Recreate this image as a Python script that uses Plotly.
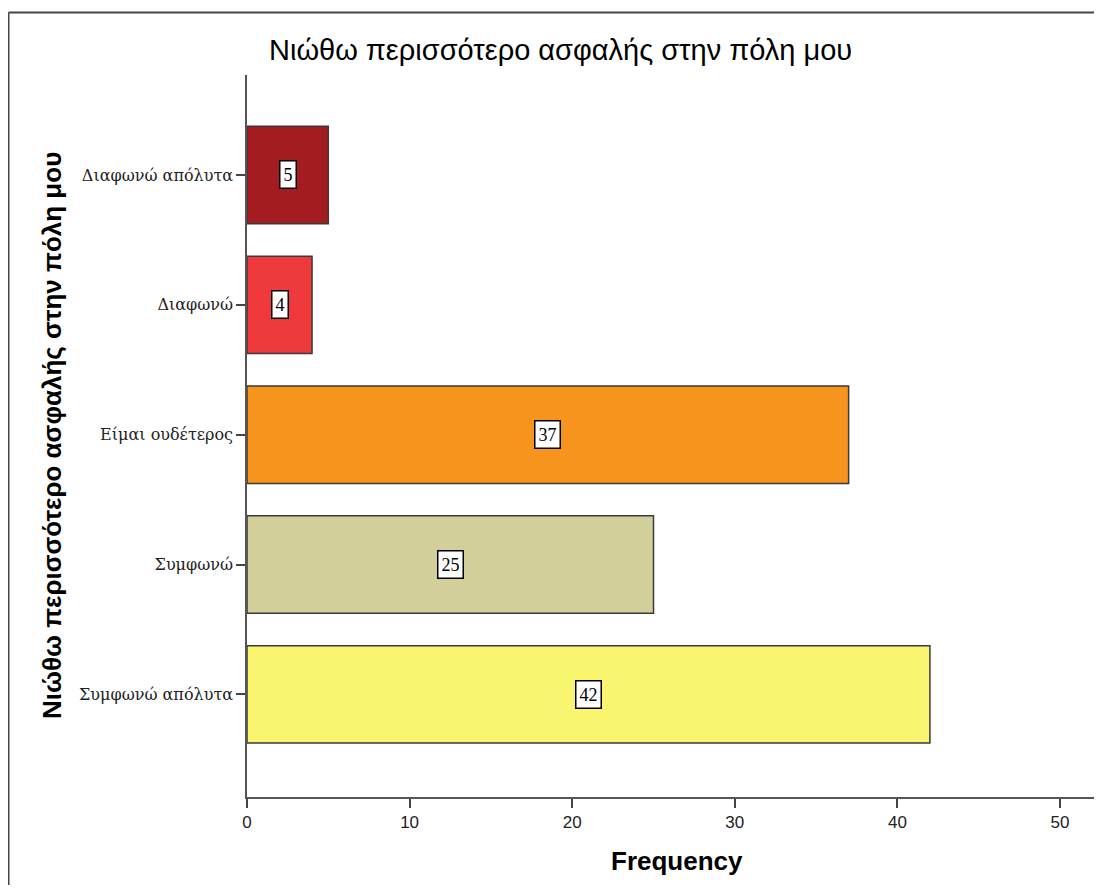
import plotly.graph_objects as go

categories = ["Διαφωνώ απόλυτα", "Διαφωνώ", "Είμαι ουδέτερος", "Συμφωνώ", "Συμφωνώ απόλυτα"]
frequencies = [5, 4, 37, 25, 42]
bar_colors = ["#A51C20", "#EE393D", "#F7941E", "#D3CF9A", "#F9F56E"]
x_ticks = [0, 10, 20, 30, 40, 50]
title_text = "Νιώθω περισσότερο ασφαλής στην πόλη μου"
y_title = "Νιώθω περισσότερο ασφαλής στην πόλη μου"
x_title = "Frequency"

# page has an 8px body margin; figure coords = page coords - 8
W, H = 1086, 877
L, R, T, B = 239, 0, 67, 88
pw, ph = W - L - R, H - T - B
AX_BOTTOM = H - B


def py(y_fig):
    return (AX_BOTTOM - y_fig) / ph


def px(x_fig):
    return (x_fig - L) / pw


fig = go.Figure()
fig.add_trace(go.Bar(
    x=frequencies, y=categories, orientation="h",
    marker=dict(color=bar_colors, line=dict(color="#3a3a3a", width=1.5)),
    width=0.75, hoverinfo="skip", showlegend=False,
))

for c, v in zip(categories, frequencies):
    fig.add_annotation(
        x=v / 2, y=c, xref="x", yref="y", text=str(v), showarrow=False,
        font=dict(family="Liberation Serif", size=18, color="black"),
        bgcolor="white", bordercolor="black", borderwidth=1.5, borderpad=3,
    )

# outer frame: only the top and left edges fall inside the picture
fig.add_shape(type="line", xref="paper", yref="paper",
              x0=px(0.5), x1=1.0, y0=py(4.5), y1=py(4.5),
              line=dict(color="#444", width=2), layer="below")
fig.add_shape(type="line", xref="paper", yref="paper",
              x0=px(0.5), x1=px(0.5), y0=py(H), y1=py(4.5),
              line=dict(color="#444", width=2), layer="below")

fig.add_annotation(
    x=px(552.5), y=py(42), xref="paper", yref="paper",
    text=title_text, showarrow=False, xanchor="center", yanchor="middle",
    font=dict(family="Liberation Sans", size=29, color="black"),
)
fig.add_annotation(
    x=px(44), y=0.5, xref="paper", yref="paper", textangle=-90,
    text="<b>" + y_title + "</b>", showarrow=False, xanchor="center", yanchor="middle",
    font=dict(family="Liberation Sans", size=26, color="black"),
)
fig.add_annotation(
    x=px(669), y=py(853), xref="paper", yref="paper",
    text="<b>" + x_title + "</b>", showarrow=False, xanchor="center", yanchor="middle",
    font=dict(family="Liberation Sans", size=26, color="black"),
)

fig.update_layout(
    width=W, height=H,
    margin=dict(l=L, r=R, t=T, b=B, pad=0),
    paper_bgcolor="white", plot_bgcolor="white",
    xaxis=dict(
        range=[0, pw / 16.26], tickvals=x_ticks, ticks="outside", ticklen=9,
        tickwidth=1.5, tickcolor="#444", showline=True, linecolor="#555", linewidth=1.5,
        showgrid=False, zeroline=False,
        tickfont=dict(family="Liberation Sans", size=17, color="#222"),
    ),
    yaxis=dict(
        categoryorder="array", categoryarray=categories,
        range=[4.79, -0.77], ticks="outside", ticklen=9, tickwidth=1.5,
        tickcolor="#444", showline=True, linecolor="#555", linewidth=1.5,
        showgrid=False, zeroline=False,
        tickfont=dict(family="DejaVu Serif", size=16, color="#222"),
    ),
)

fig.write_html("out.html")
